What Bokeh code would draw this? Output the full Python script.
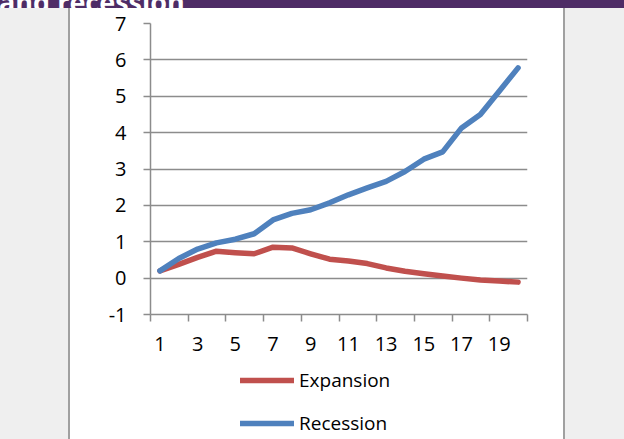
from bokeh.plotting import figure
from bokeh.models import Div, FixedTicker, Legend, LegendItem, Range1d
from bokeh.layouts import row, column
from bokeh.embed import file_html
from bokeh.resources import INLINE

# ---- data ----
periods = list(range(1, 21))
expansion = [0.20, 0.38, 0.57, 0.74, 0.70, 0.67, 0.85, 0.83, 0.67, 0.52,
             0.47, 0.40, 0.28, 0.19, 0.12, 0.06, 0.00, -0.05, -0.08, -0.11]
recession = [0.20, 0.54, 0.80, 0.97, 1.07, 1.22, 1.60, 1.78, 1.88, 2.07,
             2.29, 2.48, 2.66, 2.93, 3.27, 3.47, 4.13, 4.50, 5.14, 5.78]
series_names = ["Expansion", "Recession"]
y_ticks = list(range(-1, 8))
y_tick_labels = {v: str(v) for v in y_ticks}
x_label_ticks = list(range(1, 20, 2))
x_boundaries = [0.5 + 2 * k for k in range(11)]
title_text = "and recession"

RED = "#C0504D"
BLUE = "#4F81BD"
GRID = "#8C8C8C"
FONT = "Open Sans"

p = figure(width=493, height=356, output_backend="svg", toolbar_location=None,
           x_range=Range1d(0.5, 20.5), y_range=Range1d(-1, 7),
           min_border_left=80, min_border_right=36, min_border_top=15,
           min_border_bottom=50,
           background_fill_color="white", border_fill_color="white",
           outline_line_color=None)

# grid
p.xgrid.visible = False
p.ygrid.ticker = FixedTicker(ticks=y_ticks)
p.ygrid.grid_line_color = GRID
p.ygrid.grid_line_width = 1.5

# x axis
xa = p.xaxis[0]
xa.ticker = FixedTicker(ticks=x_label_ticks, minor_ticks=x_boundaries)
xa.major_tick_out = 0
xa.major_tick_in = 0
xa.minor_tick_out = 7
xa.minor_tick_in = 0
xa.minor_tick_line_color = GRID
xa.minor_tick_line_width = 1.5
xa.axis_line_color = GRID
xa.axis_line_width = 1.5
xa.major_label_text_font = FONT
xa.major_label_text_font_size = "20px"
xa.major_label_text_color = "black"
xa.major_label_standoff = 15

# y axis
ya = p.yaxis[0]
ya.ticker = FixedTicker(ticks=y_ticks)
ya.major_label_overrides = y_tick_labels
ya.major_tick_out = 7
ya.major_tick_in = 0
ya.minor_tick_out = 0
ya.minor_tick_in = 0
ya.major_tick_line_color = GRID
ya.major_tick_line_width = 1.5
ya.axis_line_color = GRID
ya.axis_line_width = 1.5
ya.major_label_text_font = FONT
ya.major_label_text_font_size = "20px"
ya.major_label_text_color = "black"
ya.major_label_standoff = 17

line_kw = dict(line_width=5.5, line_cap="round", line_join="round")
p.line(periods, expansion, line_color=RED, **line_kw)
p.line(periods, recession, line_color=BLUE, **line_kw)

# legend figure (below the chart, inside the white panel); its ranges keep
# the copies of the series out of view so only the legend shows
lg = figure(width=493, height=75, output_backend="svg", toolbar_location=None,
            x_range=Range1d(100, 101), y_range=Range1d(100, 101),
            x_axis_location=None, y_axis_location=None,
            min_border_left=0, min_border_right=0, min_border_top=0,
            min_border_bottom=0, background_fill_color="white",
            border_fill_color="white", outline_line_color=None)
lg.grid.visible = False
l_exp = lg.line(periods, expansion, line_color=RED, **line_kw)
l_rec = lg.line(periods, recession, line_color=BLUE, **line_kw)
legend = Legend(items=[LegendItem(label=series_names[0], renderers=[l_exp]),
                       LegendItem(label=series_names[1], renderers=[l_rec])],
                location=(90, 3), orientation="vertical",
                background_fill_alpha=0, border_line_alpha=0,
                padding=0, margin=0, glyph_width=54, glyph_height=26,
                label_height=26, spacing=17, label_standoff=5,
                label_text_font=FONT, label_text_font_size="19px",
                label_text_color="black")
lg.add_layout(legend)

banner = Div(width=624, height=8, margin=0,
             styles={"background-color": "#4E2C66", "overflow": "hidden"},
             text=('<div style="margin:0; margin-top:-17px; margin-left:-1px; '
                   'font-family:\'Open Sans\'; font-weight:bold; font-size:27px; '
                   'line-height:27px; color:white; white-space:nowrap;">'
                   + title_text + '</div>'))

def block(w, color):
    return Div(width=w, height=431, margin=0, text="",
               styles={"background-color": color})

panel = column(p, lg, spacing=0)
body = row(block(68, "#EFEFEF"), block(2, "#A0A0A0"), panel,
           block(2, "#A0A0A0"), block(59, "#EFEFEF"), spacing=0)
root = column(banner, body, spacing=0)

open("out.html", "w").write(file_html(root, INLINE))
